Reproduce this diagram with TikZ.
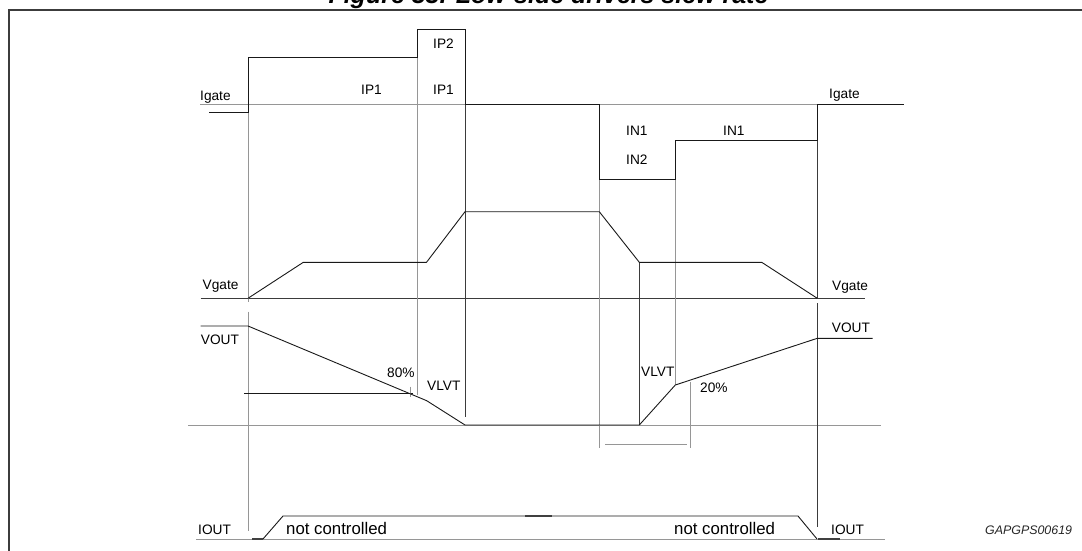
\documentclass[tikz,border=0pt]{standalone}
\usepackage{fontspec}
\setmainfont{Liberation Sans}
\definecolor{gridgray}{RGB}{150,150,150}
\definecolor{framegray}{RGB}{60,60,60}
\definecolor{wavec}{RGB}{25,25,25}
\begin{document}
\begin{tikzpicture}[x=1pt,y=-1pt,
  wave/.style={wavec,line width=0.9pt,line join=miter},
  gridln/.style={gridgray,line width=0.9pt},
  darkln/.style={wavec!85,line width=0.8pt},
  lbl/.style={font=\fontsize{13.7}{16}\selectfont,inner sep=0pt,anchor=base west},
  bigl/.style={font=\fontsize{16.8}{20}\selectfont,inner sep=0pt,anchor=base west},
  darkseg/.style={black!75,line width=1.6pt}]
\useasboundingbox (0,0) rectangle (1082,551);
\fill[white] (0,0) rectangle (1082,551);
% frame and title
\draw[framegray,line width=2pt] (8.5,552) -- (8.5,10.5) -- (1083,10.5);
\node[font=\fontsize{25}{30}\selectfont\bfseries\itshape,inner sep=0pt,anchor=base] (title) at (548.5,4) {Figure 33. Low-side drivers slew rate};
% reference lines
\draw[gridln] (200,104.4) -- (904,104.4);
\draw[darkln] (200.7,298.3) -- (865,298.3);
\draw[gridln] (188,425) -- (881,425);
\draw[gridln] (196,539) -- (885,539);
% vertical timing markers
\draw[gridln] (248,112.4) -- (248,302);
\draw[gridln] (248,311.7) -- (248,531);
\draw[gridln] (417.7,57) -- (417.7,395);
\draw[darkln] (465,104) -- (465,417);
\draw[gridln] (599.3,180) -- (599.3,448);
\draw[darkln] (639.3,262) -- (639.3,425);
\draw[gridln] (675.3,141) -- (675.3,385);
\draw[gridln] (690.7,382) -- (690.7,448);
\draw[darkln] (817.3,104) -- (817.3,298);
\draw[darkln] (817.3,303) -- (817.3,527);
\draw[gridln] (605,444.5) -- (687,444.5);
% 80% reference
\draw[wave,line width=0.7pt] (244,393.4) -- (413,393.4);
\draw[gridln] (410,386.7) -- (410,396.7);
% Igate waveform
\draw[wave] (209,112.4) -- (248,112.4) -- (248,57) -- (417.7,57) -- (417.7,29.5)
  -- (465,29.5) -- (465,104.4) -- (599.3,104.4) -- (599.3,179.5) -- (675.3,179.5)
  -- (675.3,140.5) -- (817.3,140.5) -- (817.3,104.4) -- (904,104.4);
% Vgate waveform
\draw[wave] (248,298.3) -- (303.3,262.3) -- (426.5,262.3) -- (465,211.7)
  -- (599.3,211.7) -- (639.3,262.3) -- (761.7,262.3) -- (817.3,298.3);
% VOUT waveform
\draw[wave] (200.7,326) -- (248,326) -- (426.7,400.7) -- (465,425) -- (639.3,425)
  -- (675.3,385) -- (817.3,338.3) -- (872.7,338.3);
% IOUT waveform
\draw[wave] (263,539) -- (283,516) -- (798,516) -- (817,539);
\draw[darkseg] (252,539) -- (263,539);
\draw[darkseg] (818,539) -- (840,539);
\draw[darkseg,line width=1.2pt] (525,516) -- (552,516);
% labels
\node[lbl] (igl) at (200,100) {Igate};
\node[lbl] (igr) at (829,99) {Igate};
\node[lbl] (ip1a) at (361,94.3) {IP1};
\node[lbl] (ip1b) at (433,94.3) {IP1};
\node[lbl] (ip2) at (433,48.3) {IP2};
\node[lbl] (in1a) at (626,135.3) {IN1};
\node[lbl] (in1b) at (723,135.3) {IN1};
\node[lbl] (in2) at (626,164) {IN2};
\node[lbl] (vgl) at (202.5,289.5) {Vgate};
\node[lbl] (vgr) at (832,290.5) {Vgate};
\node[lbl] (vol) at (200.7,344) {VOUT};
\node[lbl] (vor) at (831.7,332.3) {VOUT};
\node[lbl] (p80) at (387,377.7) {80\%};
\node[lbl] (vlvta) at (427,390.7) {VLVT};
\node[lbl] (vlvtb) at (641,376.7) {VLVT};
\node[lbl] (p20) at (700,392.7) {20\%};
\node[lbl] (iol) at (198,534) {IOUT};
\node[lbl] (ior) at (831,534) {IOUT};
\node[bigl] (ncl) at (286,534) {not controlled};
\node[bigl] (ncr) at (674,534) {not controlled};
\node[font=\fontsize{12.4}{15}\selectfont\itshape,inner sep=0pt,anchor=base west,text=black!85] (code) at (985,534) {GAPGPS00619};
\end{tikzpicture}
\end{document}
